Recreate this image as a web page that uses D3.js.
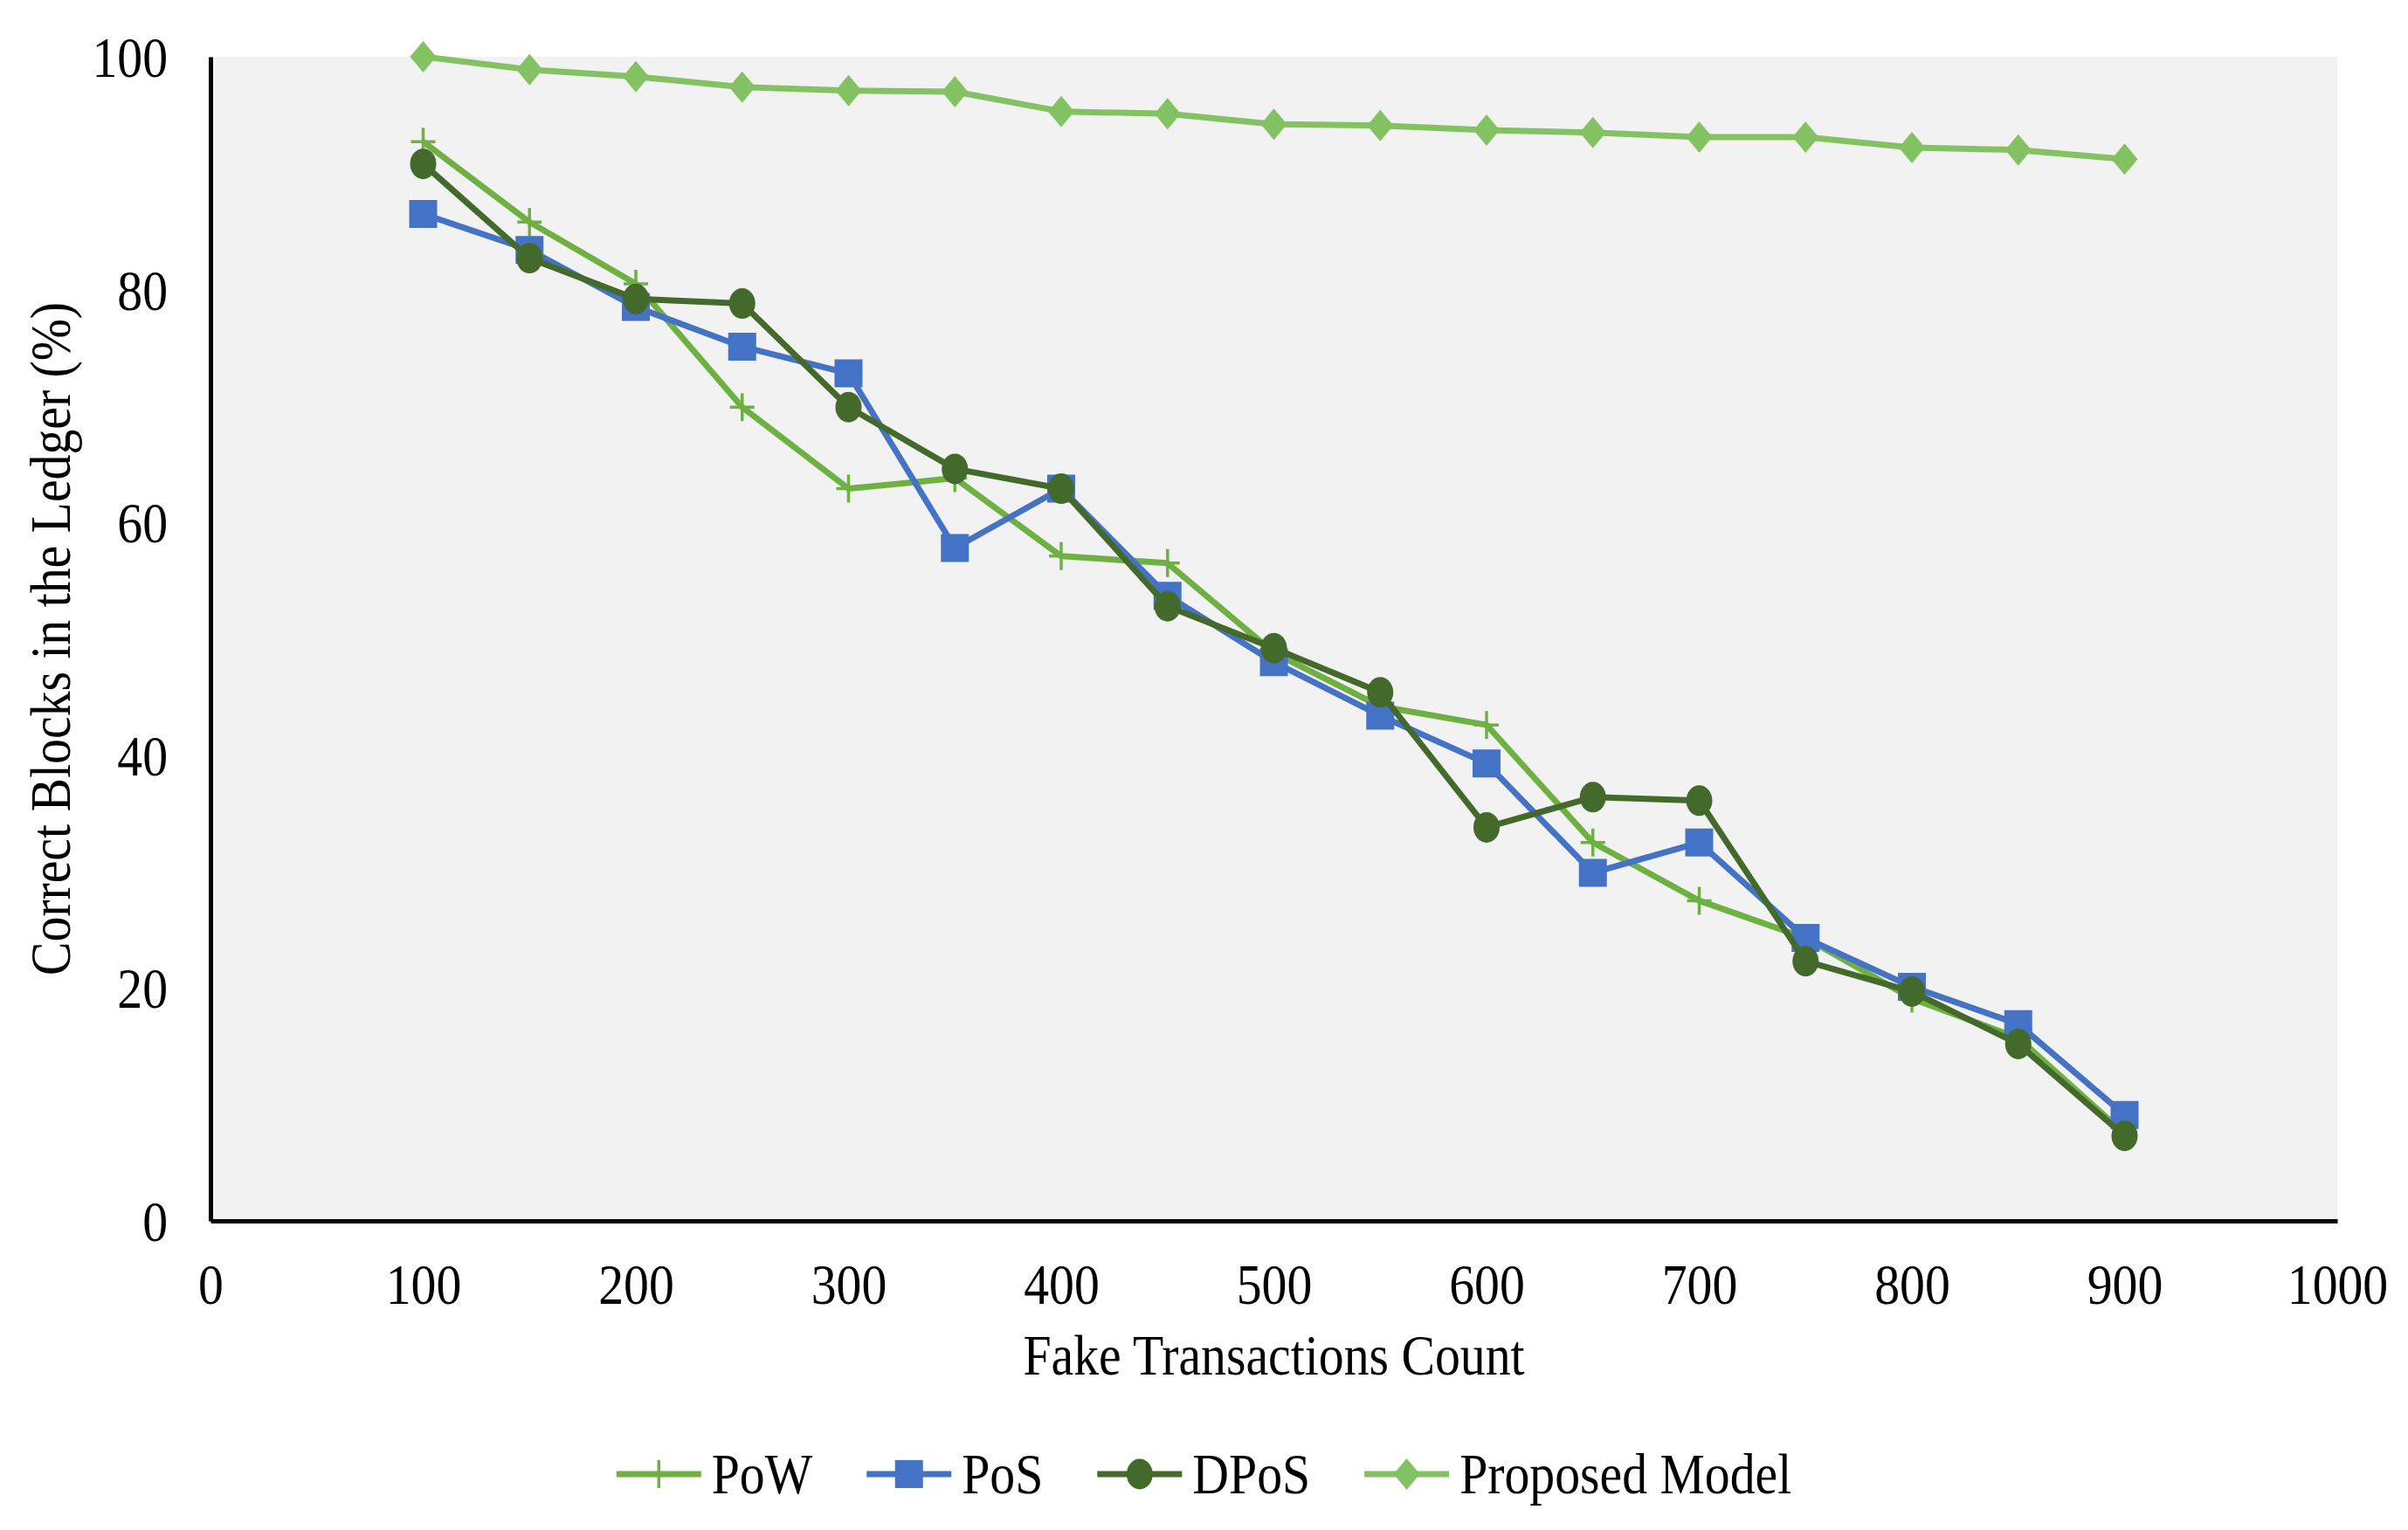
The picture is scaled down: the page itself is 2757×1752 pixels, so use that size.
<!DOCTYPE html>
<html>
<head>
<meta charset="utf-8">
<script src="https://cdn.jsdelivr.net/npm/d3@7"></script>
<style>
  body { margin: 0; background: #fff; }
  text { font-family: "Liberation Serif", "Times New Roman", serif; fill: #000; }
</style>
</head>
<body>
<svg id="chart" width="2757" height="1752"></svg>
<script>
  // fake transaction counts (x) and % of correct blocks per consensus
  var txCounts = [100, 150, 200, 250, 300, 350, 400, 450, 500, 550, 600, 650, 700, 750, 800, 850, 900];
  var powValues = [92.7, 85.8, 80.5, 69.9, 62.9, 63.8, 57.1, 56.5, 48.8, 44.2, 42.6, 32.5, 27.5, 24.3, 19.1, 15.7, 7.5];
  var posValues = [86.5, 83.4, 78.5, 75.1, 72.8, 57.8, 62.9, 53.7, 48.0, 43.4, 39.3, 29.9, 32.5, 24.3, 20.1, 16.9, 9.1];
  var dposValues = [90.8, 82.7, 79.2, 78.8, 69.9, 64.6, 62.9, 52.8, 49.2, 45.4, 33.8, 36.4, 36.1, 22.3, 19.7, 15.2, 7.3];
  var proposedValues = [100, 98.9, 98.3, 97.4, 97.1, 97.0, 95.3, 95.1, 94.2, 94.1, 93.7, 93.5, 93.1, 93.1, 92.2, 92.0, 91.2];

  var seriesNames = ["PoW", "PoS", "DPoS", "Proposed Model"];
  var xTicks = [0, 100, 200, 300, 400, 500, 600, 700, 800, 900, 1000];
  var yTicks = [0, 20, 40, 60, 80, 100];

  var series = [
    { name: seriesNames[0], values: powValues, color: "#6fb043", marker: "plus" },
    { name: seriesNames[1], values: posValues, color: "#4472c4", marker: "square" },
    { name: seriesNames[2], values: dposValues, color: "#436a2b", marker: "circle" },
    { name: seriesNames[3], values: proposedValues, color: "#82c262", marker: "diamond" }
  ];

  var W = 2757, H = 1752;
  var plotLeft = 241, plotRight = 2676, plotTop = 65, plotBottom = 1398;
  var fontSize = 66, squeeze = 0.875;
  var lineWidth = 7;

  var svg = d3.select("#chart");

  var x = d3.scaleLinear().domain([0, 1000]).range([plotLeft, plotRight]);
  var y = d3.scaleLinear().domain([0, 100]).range([plotBottom, plotTop]);

  // plot background
  svg.append("rect")
    .attr("x", plotLeft).attr("y", plotTop)
    .attr("width", plotRight - plotLeft).attr("height", plotBottom - plotTop)
    .attr("fill", "#f2f2f2");

  // axes
  var xAxis = svg.append("g")
    .attr("transform", "translate(0," + plotBottom + ")")
    .call(d3.axisBottom(x).tickValues(xTicks).tickFormat(d3.format("d")).tickSize(0).tickPadding(48));
  var yAxis = svg.append("g")
    .attr("transform", "translate(" + plotLeft + ",0)")
    .call(d3.axisLeft(y).tickValues(yTicks).tickFormat(d3.format("d")).tickSize(0).tickPadding(56));

  [xAxis, yAxis].forEach(function(a) {
    a.select(".domain").attr("stroke", "#000").attr("stroke-width", 5);
    a.selectAll("text")
      .attr("font-family", "Liberation Serif")
      .attr("font-size", fontSize)
      .attr("transform", "scale(" + squeeze + ",1)");
  });
  yAxis.selectAll("text").attr("dy", "0.34em");

  // lines + markers
  function markerPath(type) {
    if (type == "plus") return "M-14,0H14M0,-16V16";
    if (type == "square") return "M-16,-16H16V16H-16Z";
    if (type == "diamond") return "M0,-18L15,0L0,18L-15,0Z";
    return null;
  }

  function draw_marker(g, type, color) {
    if (type == "circle") {
      g.append("ellipse").attr("rx", 15).attr("ry", 17.5).attr("fill", color);
    } else if (type == "plus") {
      g.append("path").attr("d", markerPath(type)).attr("stroke", color).attr("stroke-width", 3.5).attr("fill", "none");
    } else {
      g.append("path").attr("d", markerPath(type)).attr("fill", color);
    }
  }

  var line = d3.line()
    .x(function(d, i) { return x(txCounts[i]); })
    .y(function(d) { return y(d); });

  series.forEach(function(s) {
    svg.append("path")
      .attr("d", line(s.values))
      .attr("fill", "none")
      .attr("stroke", s.color)
      .attr("stroke-width", lineWidth)
      .attr("stroke-linejoin", "round");

    s.values.forEach(function(v, i) {
      var g = svg.append("g").attr("transform", "translate(" + x(txCounts[i]) + "," + y(v) + ")");
      draw_marker(g, s.marker, s.color);
    });
  });

  // axis titles
  svg.append("text")
    .attr("transform", "translate(" + (plotLeft + plotRight) / 2 + ",1574) scale(" + squeeze + ",1)")
    .attr("text-anchor", "middle")
    .attr("font-size", fontSize)
    .text("Fake Transactions Count");

  svg.append("text")
    .attr("transform", "translate(80," + (plotTop + plotBottom) / 2 + ") rotate(-90) scale(" + squeeze + ",1)")
    .attr("text-anchor", "middle")
    .attr("font-size", fontSize)
    .text("Correct Blocks in the Ledger (%)");

  // legend, centred on the figure
  var legend = svg.append("g");
  var cursor = 0;
  series.forEach(function(s, i) {
    var item = legend.append("g").attr("transform", "translate(" + cursor + ",0)");
    item.append("line")
      .attr("x1", 0).attr("x2", 97)
      .attr("stroke", s.color).attr("stroke-width", lineWidth);
    var m = item.append("g").attr("transform", "translate(48.5,0)");
    draw_marker(m, s.marker, s.color);
    var t = item.append("text")
      .attr("transform", "translate(109,22) scale(" + squeeze + ",1)")
      .attr("font-size", fontSize)
      .text(s.name);
    cursor += 109 + t.node().getComputedTextLength() * squeeze + 62;
  });
  var legendWidth = cursor - 62;
  legend.attr("transform", "translate(" + (W / 2 - legendWidth / 2) + ",1688)");
</script>
</body>
</html>
